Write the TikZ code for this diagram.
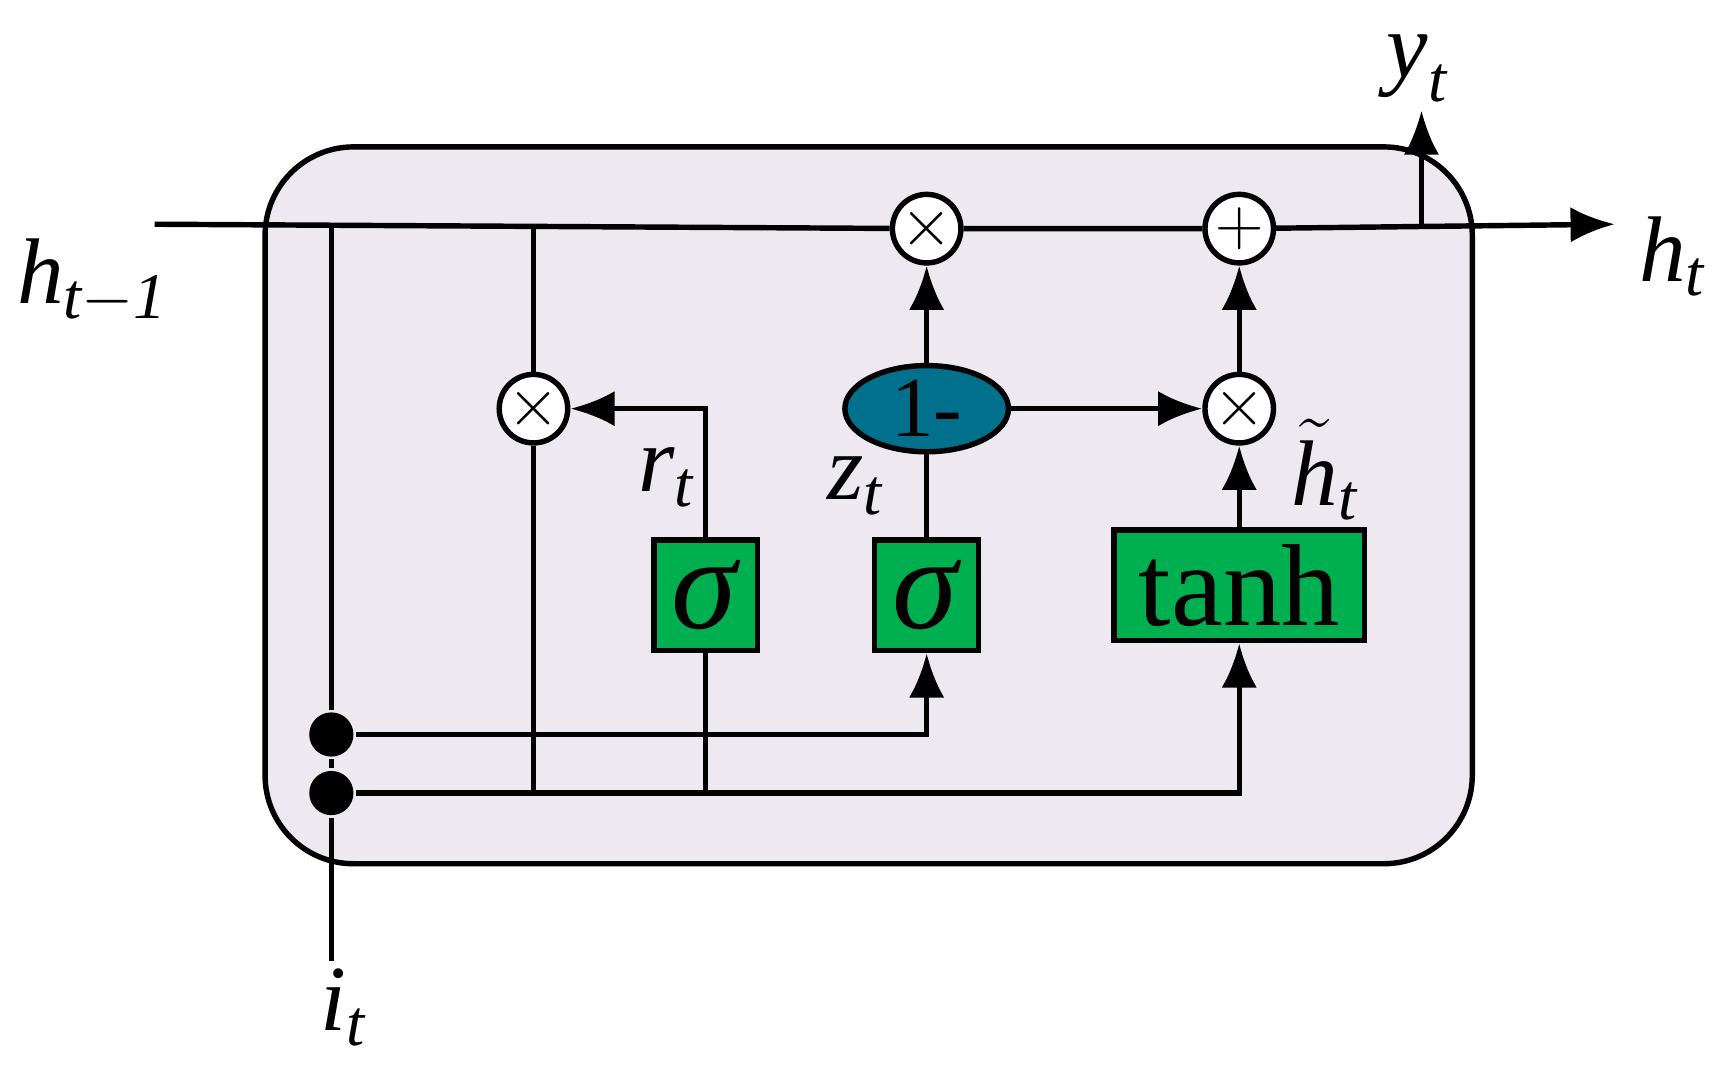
\documentclass[tikz,border=0pt]{standalone}
\usepackage{amsmath}
\usepackage{fontspec}
\setmainfont{Liberation Serif}
\definecolor{cellbg}{RGB}{238,232,240}
\definecolor{gatefill}{RGB}{0,176,80}
\definecolor{onefill}{RGB}{0,112,140}
\newcommand{\svar}[2]{$\text{\textit{#1}}_{\text{\textit{#2}}}$}
\usetikzlibrary{positioning,calc,arrows.meta,shapes.geometric}
\begin{document}
\begin{tikzpicture}
    [x=0.01cm,y=-0.01cm,line width=1.4pt,
      op/.style={circle,draw,fill=white,minimum size=0.62cm,inner sep=0pt,font=\fontsize{17}{17}\selectfont},
      gate/.style={rectangle,draw,fill=gatefill,minimum height=1cm,inner sep=0pt},
      flow/.style={-{Latex[length=4mm,width=3.2mm]}},
      lbl/.style={font=\fontsize{24}{28}\selectfont}]
  \useasboundingbox (0,0) rectangle (1560,978);

  \draw [fill=cellbg,rounded corners=0.8cm] (240,133) rectangle (1333,782);

  \coordinate (hin) at (140,203);
  \coordinate (hout) at (1462,203);
  \coordinate (iin) at (300,870);
  \node [op] (mulr) at (483,370) {$\times$};
  \node [op] (mulz) at (839,207) {$\times$};
  \node [op] (addh) at (1122,207) {$+$};
  \node [op] (mulc) at (1122,370) {$\times$};
  \node [gate,minimum width=0.94cm] (sigr) at (639,539) {\fontsize{34}{34}\selectfont\textit{σ}};
  \node [gate,minimum width=0.94cm] (sigz) at (839,539) {\fontsize{34}{34}\selectfont\textit{σ}};
  \node [gate,minimum width=2.27cm] (tanh) at (1122,530) {\fontsize{30}{34}\selectfont tanh};
  \node [ellipse,draw,fill=onefill,minimum width=1.48cm,minimum height=0.78cm,inner sep=0pt]
    (onem) at (839,370) {\fontsize{22}{26}\selectfont 1-};
  \node [circle,fill,minimum size=0.4cm,inner sep=0pt] (dz) at (300,665) {};
  \node [circle,fill,minimum size=0.4cm,inner sep=0pt] (dh) at (300,718) {};
  \coordinate (ysplit) at (1287,203);
  \coordinate (yout) at (1287,100);

  % labels
  \node [lbl] at (84,255) {\svar{h}{t$-$1}};
  \node [lbl] at (1515,232) {\svar{h}{t}};
  \node [lbl] at (312,912) {\svar{i}{t}};
  \node [lbl] at (1284,62) {\svar{y}{t}};
  \node [lbl] at (604,432) {\svar{r}{t}};
  \node [lbl] at (775,440) {\svar{z}{t}};
  \node [lbl] at (1200,425) {$\tilde{\text{\textit{h}}}_{\text{\textit{t}}}$};

  % state line
  \draw (hin) -- (mulz) -- (addh);
  \draw [flow] (addh) -- (hout);
  \draw [flow] (ysplit) -- (yout);
  \draw (300,203) -- (dz) -- (dh) -- (iin);
  \draw (483,203) -- (mulr) -- (483,718);

  % gates
  \draw [flow] (dz) -| (sigz);
  \draw [flow] (dh) -| (tanh);
  \draw (sigr) -- (639,718);
  \draw [flow] (sigr) |- (mulr);
  \draw (sigz) -- (onem);
  \draw [flow] (onem) -- (mulz);
  \draw [flow] (onem) -- (mulc);
  \draw [flow] (tanh) -- (mulc);
  \draw [flow] (mulc) -- (addh);
\end{tikzpicture}
\end{document}
